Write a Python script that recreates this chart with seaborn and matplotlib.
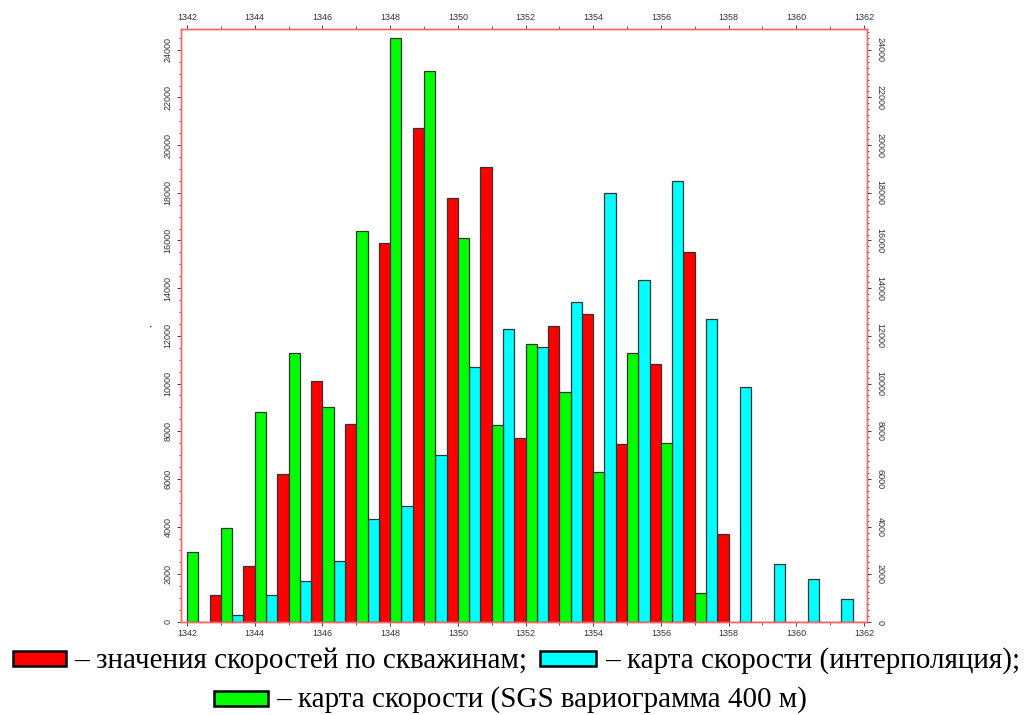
import numpy as np
import pandas as pd
import matplotlib
matplotlib.use("Agg")
import matplotlib.pyplot as plt
import seaborn as sns
from matplotlib.patches import Rectangle
from matplotlib.ticker import MultipleLocator

# bin left edges (width 1) and counts per series
BINS = list(range(1342, 1362))
SGS_400 = [2950, 3950, 8800, 11300, 9000, 16400, 24500, 23100, 16100, 8250,
           11650, 9650, 6300, 11300, 7500, 1200, 0, 0, 0, 0]
INTERP = [0, 300, 1150, 1700, 2550, 4300, 4850, 7000, 10700, 12300,
          11550, 13400, 18000, 14350, 18500, 12700, 9850, 2450, 1800, 950]
WELLS = [1150, 2350, 6200, 10100, 8300, 15900, 20700, 17800, 19100, 7700,
         12400, 12900, 7450, 10800, 15500, 3700, 0, 0, 0, 0]

SERIES = ["sgs", "interp", "wells"]
COLORS = {"sgs": "#00ff00", "interp": "#00ffff", "wells": "#ff0000"}
LEGEND_TEXT = {
    "wells": "– значения скоростей по скважинам;",
    "interp": "– карта скорости (интерполяция);",
    "sgs": "– карта скорости (SGS вариограмма 400 м)",
}

rows = []
for name, vals in zip(SERIES, [SGS_400, INTERP, WELLS]):
    for b, v in zip(BINS, vals):
        rows.append({"center": b + 0.5, "count": v, "series": name})
df = pd.DataFrame(rows)

sns.set_style("white")
plt.rcParams["font.family"] = ["Liberation Sans", "DejaVu Sans"]

fig = plt.figure(figsize=(10.26, 7.15), dpi=100)
ax = fig.add_axes([181 / 1026, 1 - 622 / 715, 686 / 1026, 593 / 715])

sns.histplot(data=df, x="center", weights="count", hue="series",
             hue_order=SERIES, palette=COLORS, multiple="dodge",
             binwidth=1, binrange=(1342, 1362), shrink=1, alpha=1,
             edgecolor="#333333", linewidth=0.9, legend=False, ax=ax)

ax.set_xlim(1341.82, 1362.09)
ax.set_ylim(0, 24870)
ax.set_xlabel("")
ax.set_ylabel("’’", fontsize=6, color="#333333", labelpad=5)

spine_col = "#ff6464"
for s in ax.spines.values():
    s.set_visible(True)
    s.set_color(spine_col)
    s.set_linewidth(1.0)

ax.xaxis.set_major_locator(MultipleLocator(2))
ax.xaxis.set_minor_locator(MultipleLocator(1))
ax.yaxis.set_major_locator(MultipleLocator(2000))
ax.yaxis.set_minor_locator(MultipleLocator(500))
ax.tick_params(axis="x", which="both", top=True, bottom=True, labeltop=True,
               labelbottom=True, direction="out", color="#444444",
               labelsize=6.5, labelcolor="#333333", pad=2)
ax.tick_params(axis="x", which="major", length=3, width=0.7)
ax.tick_params(axis="x", which="minor", length=2, width=0.6)
ax.tick_params(axis="y", which="both", left=True, right=False, direction="out",
               color="#444444", labelsize=6.5, labelcolor="#333333", pad=3)
ax.tick_params(axis="y", which="major", length=3, width=0.7)
ax.tick_params(axis="y", which="minor", length=1.5, width=0.6)
for lab in ax.get_yticklabels():
    lab.set_rotation(90)
    lab.set_va("center")

ax2 = ax.twinx()
ax2.set_ylim(ax.get_ylim())
ax2.yaxis.set_major_locator(MultipleLocator(2000))
ax2.yaxis.set_minor_locator(MultipleLocator(250))
for s in ax2.spines.values():
    s.set_color(spine_col)
    s.set_linewidth(1.0)
ax2.tick_params(axis="y", which="both", direction="out", color="#444444",
                labelsize=6.5, labelcolor="#333333", pad=3)
ax2.tick_params(axis="y", which="major", length=3, width=0.7)
ax2.tick_params(axis="y", which="minor", length=1.5, width=0.6)
for lab in ax2.get_yticklabels():
    lab.set_rotation(-90)
    lab.set_va("center")

# legend below the chart (pixel layout, figure coords)
W, H = 1026, 715
def legend_item(key, x0, x1, ytop, ybot, tx, baseline):
    fig.patches.append(Rectangle((x0 / W, 1 - ybot / H), (x1 - x0) / W, (ybot - ytop) / H,
                                 transform=fig.transFigure, facecolor=COLORS[key],
                                 edgecolor="black", linewidth=1.8))
    fig.text(tx / W, 1 - baseline / H, LEGEND_TEXT[key], ha="left", va="baseline",
             fontsize=21, family=["Liberation Serif", "DejaVu Serif"], color="black")

legend_item("wells", 13, 66, 651, 666, 74, 668)
legend_item("interp", 540, 596, 651, 666, 605, 668)
legend_item("sgs", 214, 268, 691, 706, 276, 707)

fig.savefig("out.png", dpi=100)
